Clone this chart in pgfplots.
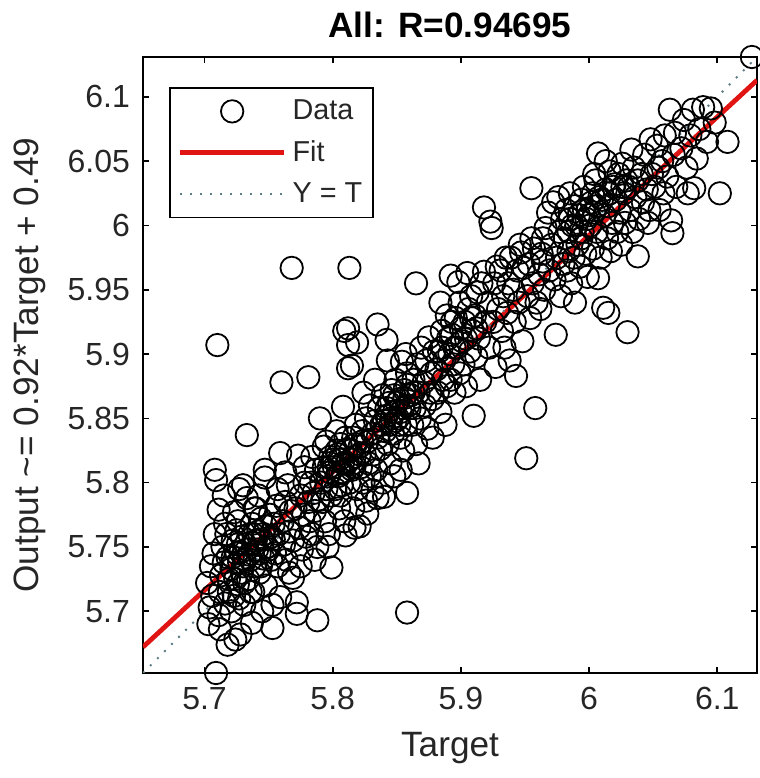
\documentclass[border=0pt]{standalone}
\usepackage{fontspec}
\setmainfont{Liberation Sans}
\usepackage{pgfplots}
\usepackage{pgfplotstable}
\pgfplotsset{compat=1.18}
\definecolor{fitred}{RGB}{225,20,20}
\definecolor{ytcol}{RGB}{95,125,135}
\definecolor{txt}{RGB}{38,38,38}
\pgfplotsset{
  dataleg/.style={legend image code/.code={\path[draw=none] (0pt,0pt) -- (52pt,0pt); \draw[black, line width=0.9pt] (26pt,0pt) circle (5.6pt);}},
  lineleg/.style={legend image code/.code={\draw[##1] (0pt,0pt) -- (52pt,0pt);}},
}

\pgfplotstableread{
x y
5.702 5.722
5.704 5.703
5.706 5.712
5.707 5.745
5.708 5.760
5.709 5.652
5.709 5.802
5.708 5.810
5.705 5.735
5.703 5.690
5.710 5.907
5.711 5.697
5.711 5.779
5.712 5.715
5.713 5.728
5.714 5.750
5.715 5.790
5.715 5.738
5.716 5.706
5.717 5.760
5.718 5.674
5.718 5.742
5.719 5.725
5.716 5.768
5.712 5.686
5.721 5.733
5.722 5.755
5.723 5.777
5.723 5.712
5.724 5.678
5.725 5.745
5.725 5.763
5.726 5.721
5.727 5.738
5.727 5.795
5.728 5.682
5.728 5.746
5.729 5.730
5.729 5.758
5.721 5.700
5.726 5.770
5.730 5.798
5.731 5.740
5.732 5.752
5.733 5.788
5.733 5.837
5.734 5.725
5.735 5.760
5.735 5.744
5.736 5.715
5.737 5.691
5.737 5.768
5.738 5.715
5.738 5.753
5.739 5.735
5.739 5.780
5.731 5.705
5.740 5.780
5.741 5.748
5.742 5.762
5.743 5.730
5.744 5.772
5.745 5.756
5.746 5.741
5.747 5.804
5.747 5.810
5.748 5.720
5.748 5.766
5.749 5.750
5.742 5.790
5.745 5.700
5.751 5.775
5.752 5.758
5.753 5.705
5.753 5.687
5.754 5.768
5.755 5.745
5.756 5.782
5.757 5.735
5.758 5.760
5.759 5.711
5.759 5.823
5.760 5.878
5.757 5.795
5.761 5.770
5.762 5.752
5.763 5.785
5.764 5.740
5.765 5.798
5.766 5.762
5.767 5.778
5.768 5.967
5.769 5.726
5.769 5.755
5.763 5.808
5.766 5.730
5.771 5.780
5.772 5.707
5.772 5.698
5.773 5.821
5.774 5.765
5.775 5.790
5.776 5.748
5.777 5.775
5.778 5.800
5.779 5.758
5.775 5.735
5.778 5.812
5.781 5.882
5.781 5.785
5.782 5.770
5.783 5.800
5.784 5.760
5.785 5.792
5.786 5.778
5.787 5.810
5.788 5.693
5.788 5.750
5.789 5.787
5.790 5.850
5.784 5.820
5.786 5.740
5.791 5.800
5.792 5.785
5.793 5.812
5.794 5.770
5.795 5.832
5.795 5.795
5.796 5.805
5.797 5.760
5.798 5.820
5.799 5.734
5.799 5.790
5.793 5.828
5.796 5.750
5.798 5.808
5.801 5.812
5.802 5.795
5.803 5.825
5.804 5.805
5.805 5.780
5.805 5.818
5.806 5.830
5.807 5.798
5.808 5.859
5.808 5.808
5.809 5.918
5.809 5.770
5.810 5.759
5.803 5.840
5.806 5.790
5.811 5.815
5.812 5.907
5.812 5.889
5.813 5.967
5.813 5.800
5.814 5.825
5.815 5.891
5.815 5.810
5.816 5.835
5.817 5.765
5.817 5.820
5.818 5.845
5.819 5.909
5.819 5.795
5.812 5.920
5.816 5.780
5.821 5.766
5.821 5.828
5.822 5.812
5.823 5.840
5.824 5.800
5.825 5.822
5.826 5.850
5.826 5.786
5.827 5.832
5.828 5.815
5.829 5.860
5.829 5.805
5.824 5.870
5.827 5.776
5.831 5.794
5.831 5.838
5.832 5.822
5.833 5.848
5.834 5.810
5.835 5.923
5.835 5.788
5.835 5.835
5.836 5.858
5.837 5.826
5.838 5.845
5.839 5.800
5.839 5.868
5.833 5.880
5.840 5.789
5.841 5.840
5.842 5.911
5.842 5.852
5.843 5.830
5.844 5.862
5.845 5.845
5.845 5.815
5.846 5.872
5.847 5.838
5.848 5.855
5.848 5.805
5.849 5.880
5.849 5.848
5.843 5.895
5.851 5.850
5.852 5.865
5.853 5.835
5.854 5.894
5.855 5.858
5.855 5.825
5.856 5.872
5.857 5.845
5.858 5.699
5.858 5.792
5.858 5.885
5.859 5.860
5.853 5.810
5.857 5.900
5.861 5.868
5.862 5.845
5.863 5.880
5.864 5.858
5.865 5.955
5.865 5.830
5.866 5.892
5.867 5.870
5.868 5.850
5.869 5.905
5.867 5.815
5.871 5.878
5.872 5.860
5.873 5.895
5.874 5.842
5.875 5.913
5.876 5.870
5.877 5.885
5.878 5.835
5.879 5.902
5.878 5.865
5.881 5.888
5.882 5.870
5.883 5.902
5.884 5.855
5.885 5.918
5.886 5.880
5.887 5.895
5.888 5.845
5.889 5.930
5.889 5.875
5.884 5.940
5.891 5.900
5.892 5.961
5.892 5.880
5.893 5.915
5.894 5.892
5.895 5.870
5.896 5.928
5.897 5.905
5.898 5.956
5.899 5.885
5.899 5.940
5.901 5.910
5.902 5.892
5.903 5.925
5.904 5.875
5.905 5.963
5.906 5.935
5.907 5.902
5.908 5.945
5.909 5.918
5.910 5.852
5.911 5.930
5.912 5.898
5.913 5.948
5.914 5.912
5.915 5.880
5.916 5.955
5.918 5.964
5.918 6.014
5.919 5.925
5.921 5.940
5.922 5.905
5.923 6.003
5.924 5.998
5.925 5.925
5.926 5.955
5.927 5.890
5.928 5.968
5.929 5.935
5.931 5.965
5.932 5.918
5.933 5.945
5.934 5.905
5.935 5.975
5.936 5.932
5.937 5.955
5.939 5.975
5.938 5.895
5.941 5.950
5.942 5.925
5.943 5.883
5.944 5.965
5.945 5.940
5.946 5.985
5.947 5.979
5.948 5.910
5.949 5.967
5.951 5.819
5.952 5.945
5.953 5.970
5.954 5.928
5.955 6.029
5.956 5.955
5.957 5.982
5.958 5.858
5.959 5.940
5.955 5.990
5.961 5.962
5.962 5.935
5.963 5.978
5.964 5.972
5.964 5.990
5.965 5.950
5.966 5.998
5.968 6.010
5.969 5.965
5.971 5.985
5.972 6.018
5.973 5.958
5.974 5.915
5.975 5.975
5.976 6.022
5.977 5.995
5.978 5.945
5.979 6.005
5.980 5.970
5.981 5.990
5.982 6.012
5.983 5.965
5.984 5.980
5.985 6.025
5.986 5.955
5.987 6.000
5.988 5.975
5.989 5.940
5.989 6.015
5.984 5.995
5.991 5.985
5.992 6.008
5.993 5.968
5.994 6.020
5.995 5.995
5.996 6.030
5.997 5.978
5.998 6.005
5.999 5.960
5.999 6.012
5.994 5.990
6.001 6.000
6.002 6.018
6.003 5.982
6.004 6.010
6.005 6.035
6.006 5.995
6.007 5.959
6.007 6.056
6.008 6.022
6.009 5.975
6.004 6.040
6.011 5.936
6.012 6.008
6.013 6.028
6.014 5.990
6.015 5.932
6.015 6.015
6.016 6.042
6.017 5.980
6.018 6.002
6.019 6.030
6.013 6.050
6.021 6.020
6.022 5.995
6.023 6.040
6.024 6.010
6.025 5.985
6.026 6.048
6.027 6.025
6.028 6.002
6.029 6.035
6.030 5.917
6.031 6.030
6.032 6.012
6.033 6.059
6.034 5.995
6.035 6.045
6.036 6.022
6.038 5.976
6.038 6.035
6.039 6.005
6.041 6.040
6.042 6.018
6.043 6.055
6.045 6.028
6.046 6.002
6.048 6.067
6.049 6.040
6.047 6.012
6.051 6.030
6.053 6.062
6.054 6.045
6.055 6.012
6.057 6.050
6.058 6.025
6.059 6.070
6.061 6.038
6.063 6.090
6.064 6.004
6.065 5.994
6.066 6.055
6.067 6.072
6.068 6.030
6.072 6.060
6.074 6.082
6.076 6.045
6.077 6.025
6.079 6.070
6.081 6.090
6.082 6.029
6.084 6.052
6.086 6.075
6.089 6.092
6.092 6.065
6.095 6.091
6.098 6.080
6.102 6.025
6.108 6.065
6.127 6.131
5.722 5.742
5.726 5.752
5.730 5.735
5.733 5.748
5.736 5.740
5.740 5.755
5.743 5.745
5.746 5.760
5.750 5.748
5.754 5.756
5.724 5.725
5.731 5.722
5.738 5.760
5.744 5.735
5.752 5.740
5.719 5.715
5.727 5.710
5.800 5.818
5.804 5.822
5.808 5.815
5.811 5.826
5.814 5.818
5.818 5.830
5.821 5.822
5.806 5.808
5.816 5.812
5.823 5.832
5.797 5.812
5.810 5.835
5.842 5.858
5.846 5.850
5.850 5.862
5.853 5.855
5.856 5.866
5.860 5.858
5.863 5.870
5.848 5.868
5.852 5.845
5.858 5.876
5.840 5.848
5.885 5.905
5.890 5.912
5.895 5.905
5.900 5.920
5.904 5.912
5.908 5.928
5.912 5.920
5.893 5.925
5.990 6.000
5.996 6.012
6.000 6.008
6.006 6.015
6.010 6.020
6.016 6.025
6.020 6.032
6.026 6.030
6.003 6.025
5.985 6.005
}\datatable

\begin{document}
\begin{tikzpicture}
\useasboundingbox (0,0) rectangle (380pt,389pt);
\begin{axis}[
  at={(71.5pt,52.5pt)}, anchor=south west,
  scale only axis, width=307pt, height=308pt,
  xmin=5.652, xmax=6.131, ymin=5.652, ymax=6.131,
  xtick={5.7,5.8,5.9,6,6.1},
  ytick={5.7,5.75,5.8,5.85,5.9,5.95,6,6.05,6.1},
  /pgf/number format/assume math mode=true,
  tick label style={font=\fontsize{16}{19}\selectfont, text=txt},
  xticklabel style={yshift=-3.5pt},
  yticklabel style={xshift=-3pt},
  major tick length=3pt,
  tick style={line width=0.8pt, black},
  axis line style={line width=1pt},
  title={\textbf{All: R=0.94695}},
  title style={at={(0.5,1)}, anchor=base, yshift=3.5pt, font=\fontsize{17.6}{21}\selectfont},
  xlabel={Target},
  ylabel={Output \textasciitilde= 0.92*Target + 0.49},
  xlabel style={at={(axis description cs:0.5,-0.122)}, anchor=center, font=\fontsize{17.6}{21}\selectfont, text=txt},
  ylabel style={at={(axis description cs:-0.184,0.5)}, anchor=center, font=\fontsize{17.6}{21}\selectfont, text=txt},
  legend style={at={(axis description cs:0.0423,0.951)}, anchor=north west, draw=black, line width=0.8pt,
    font=\fontsize{14.4}{17}\selectfont, text=txt, inner xsep=4pt, inner ysep=4.5pt,
    row sep=6pt, column sep=1.5pt, nodes={inner sep=1.5pt}},
  legend cell align=left,
]
\addlegendimage{dataleg}
\addlegendentry{Data}
\addlegendimage{lineleg, fitred, line width=2.4pt}
\addlegendentry{Fit}
\addlegendimage{lineleg, ytcol, line width=1pt, dash pattern=on 1pt off 4pt}
\addlegendentry{Y = T}

\addplot[fitred, line width=2.4pt, forget plot] coordinates {(5.652,5.6722) (6.131,6.1129)};
\addplot[ytcol, line width=1pt, dash pattern=on 1pt off 4pt, forget plot] coordinates {(5.652,5.652) (6.131,6.131)};
\addplot[only marks, mark=o, mark size=5.6pt, line width=0.9pt, black, forget plot] table[x=x, y=y] {\datatable};
\end{axis}
\end{tikzpicture}
\end{document}
